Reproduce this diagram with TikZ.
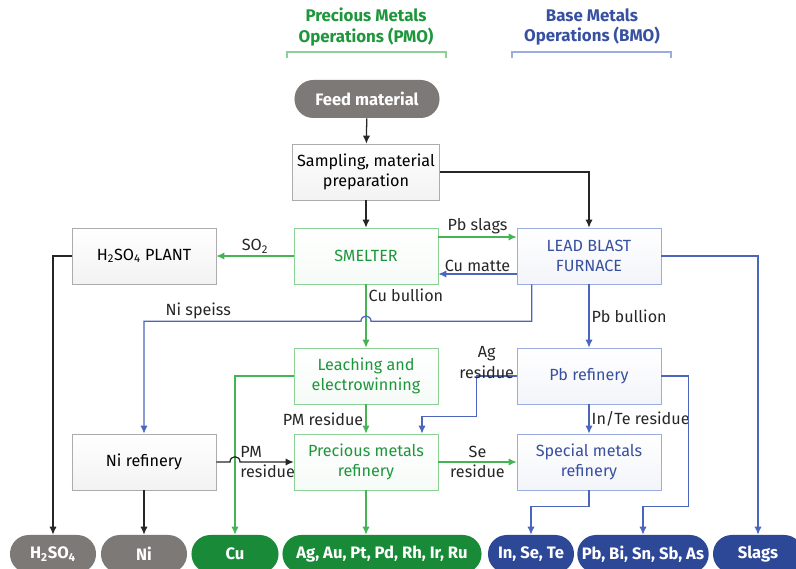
\documentclass[tikz,border=0pt]{standalone}
\usepackage{fontspec}
\setmainfont{Fira Sans}
\usetikzlibrary{arrows.meta,positioning,calc}

\definecolor{pmgreen}{RGB}{30,150,60}
\definecolor{pmpill}{RGB}{24,138,56}
\definecolor{pmline}{RGB}{140,210,150}
\definecolor{pmarrow}{RGB}{70,180,85}
\definecolor{bmblue}{RGB}{55,80,160}
\definecolor{bmpill}{RGB}{46,72,152}
\definecolor{bmline}{RGB}{155,172,222}
\definecolor{bmarrow}{RGB}{75,102,188}
\definecolor{graypill}{RGB}{125,121,119}

\begin{document}
\begin{tikzpicture}[
    x=0.025cm, y=-0.025cm,
    font=\fontsize{11.5}{14.8}\selectfont,
    unit/.style={
        draw=gray!65, align=center,
        minimum width=3.6cm, minimum height=1.4cm,
        top color=white, bottom color=gray!10
    },
    pmunit/.style={unit, draw=pmline, text=pmgreen, bottom color=pmgreen!4},
    bmunit/.style={unit, draw=bmline, text=bmblue, bottom color=bmblue!6},
    pill/.style={
        rounded corners=0.47cm, align=center,
        minimum height=0.95cm, minimum width=2.15cm,
        text=white, fill=graypill,
        font=\fontsize{11.8}{14}\selectfont\bfseries
    },
    pmpillbox/.style={pill, fill=pmpill},
    bmpillbox/.style={pill, fill=bmpill},
    head/.style={align=center, font=\fontsize{12}{14.6}\selectfont\bfseries},
    edge/.style={-{Latex[length=2mm,width=1.8mm]}, line width=0.9pt, black!85},
    pmedge/.style={edge, pmarrow},
    bmedge/.style={edge, bmarrow},
    lbl/.style={inner sep=1.5pt, text=black!85}
]
\useasboundingbox (0,0) rectangle (796,569);

% 1. Headers
\node[head, text=pmgreen] (pmohead) at (366,27) {Precious Metals\\Operations (PMO)};
\node[head, text=bmblue] (bmohead) at (592,27) {Base Metals\\Operations (BMO)};
\draw[pmline, line width=1pt] (287,58) |- (446,52) -- (446,58);
\draw[bmline, line width=1pt] (512,58) |- (671,52) -- (671,58);

% 2. Feed and first stage
\node[pill, minimum width=3.625cm] (feed) at (367,99) {Feed material};
\node[unit, minimum width=3.55cm] (sample) at (366,172) {Sampling, material\\preparation};
\node[pmunit] (smelter) at (366,256) {SMELTER};
\node[bmunit] (lbf) at (589,256) {LEAD BLAST\\FURNACE};
\node[unit] (plant) at (144,256) {H\textsubscript{2}SO\textsubscript{4} PLANT};

% 3. Refining stage
\node[pmunit] (leach) at (366,376) {Leaching and\\electrowinning};
\node[bmunit] (pbref) at (589,376) {Pb refinery};
\node[unit] (niref) at (144,462) {Ni refinery};
\node[pmunit] (pmref) at (366,462) {Precious metals\\refinery};
\node[bmunit] (smref) at (589,462) {Special metals\\refinery};

% 4. Products
\node[pill] (acid) at (53,554) {H\textsubscript{2}SO\textsubscript{4}};
\node[pill] (ni) at (144,554) {Ni};
\node[pmpillbox, minimum width=2.175cm] (cu) at (235,554) {Cu};
\node[pmpillbox, minimum width=4.975cm] (pmprod) at (382,554) {Ag, Au, Pt, Pd, Rh, Ir, Ru};
\node[bmpillbox] (inse) at (531,554) {In, Se, Te};
\node[bmpillbox, minimum width=3.175cm] (pbbi) at (643,554) {Pb, Bi, Sn, Sb, As};
\node[bmpillbox, minimum width=2.25cm] (slags) at (758,554) {Slags};

% Feed
\draw[edge] (feed) -- (sample);
\draw[edge] (sample) -- (smelter);
\draw[edge] (sample.east) -| (lbf.north);

% Smelter / blast furnace
\coordinate (nihop) at ($(smelter.south)+(0,37)$);
\draw[pmedge] (smelter) -- node[lbl, above] {SO\textsubscript{2}} (plant);
\draw[pmedge] ($(smelter.east)+(0,-19)$) -- node[lbl, above] {Pb slags} ($(lbf.west)+(0,-19)$);
\draw[bmedge] ($(lbf.west)+(0,18)$) -- node[lbl, above] {Cu matte} ($(smelter.east)+(0,18)$);
\draw[pmedge] (smelter) -- node[lbl, right, pos=0.17] {Cu bullion} (leach);
\draw[bmedge] ($(lbf.south west)+(15,0)$) |- ($(nihop)+(5,0)$)
    .. controls +(0,-7) and +(0,-7) .. ($(nihop)+(-5,0)$)
    -- node[lbl, above, pos=0.75] {Ni speiss} (niref.north |- nihop) -- (niref.north);
\draw[bmedge] (lbf) -- node[lbl, right] {Pb bullion} (pbref);
\draw[bmedge] (lbf.east) -| (slags.north);
\draw[edge] (plant.west) -| (acid.north);

% Refineries
\draw[pmedge] (leach.west) -| (cu.north);
\draw[pmedge] (leach) -- node[lbl, left] {PM residue} (pmref);
\draw[bmedge] (pbref.west) -- node[lbl, above, align=center, pos=0.75, yshift=-4pt] {Ag\\residue} ++(-40,0)
    |- ($(pmref.north)+(56,-17)$) -- ($(pmref.north)+(56,0)$);
\draw[bmedge] (pbref) -- node[lbl, right] {In/Te residue} (smref);
\draw[bmedge] (pbref.east) -- ++(27,0) |- ($(pbbi.north)+(0,-28)$) -- (pbbi.north);
\draw[edge] (niref.east) -- ($(cu.north |- niref.east)+(-5,0)$)
    .. controls +(0,-7) and +(0,-7) .. ($(cu.north |- niref.east)+(5,0)$)
    -- (pmref.west);
\node[lbl, align=left, anchor=west] (pmres) at (238,462) {PM\\residue};
\draw[pmedge] (pmref) -- node[lbl, align=center] {Se\\residue} (smref);
\draw[bmedge] (smref.south) |- ($(inse.north)+(0,-28)$) -- (inse.north);
\draw[edge] (niref) -- (ni);
\draw[pmedge] (pmref.south) -- (pmref.south |- pmprod.north);

\end{tikzpicture}
\end{document}
